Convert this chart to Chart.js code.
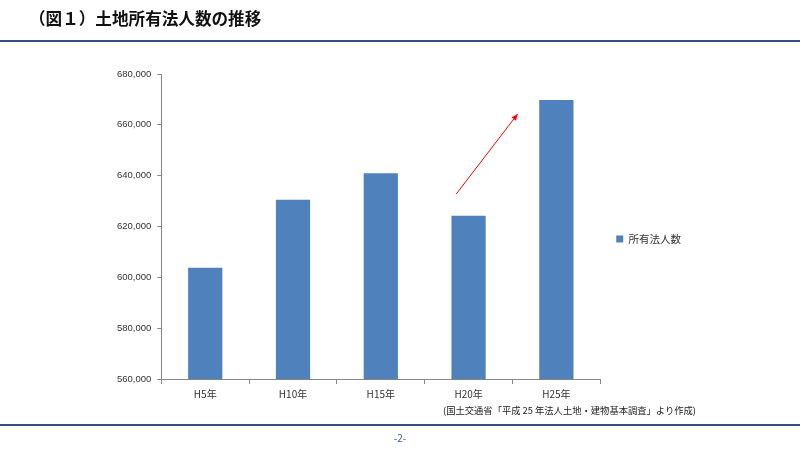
<!DOCTYPE html>
<html>
<head>
<meta charset="utf-8">
<script src="https://cdn.jsdelivr.net/npm/chart.js@4"></script>
<style>
  body { margin: 0; background: #fff; font-family: "Noto Sans CJK JP", sans-serif; }
  #wrap { position: relative; width: 800px; height: 450px; overflow: hidden; }
  #title { position: absolute; left: 29px; top: 6px; font-size: 16.6px; font-weight: bold; color: #111; }
  .rule { position: absolute; left: 0; width: 800px; height: 2px; background: #34507a; }
  #note { position: absolute; left: 443px; top: 403px; font-size: 9.3px; color: #222; }
  #page { position: absolute; left: 0; width: 800px; top: 430px; text-align: center; font-size: 10px; color: #3c5aa0; }
  #box { position: absolute; left: 0; top: 0; width: 800px; height: 450px; }
</style>
</head>
<body>
<div id="wrap">
  <div id="box"><canvas id="myBarChart"></canvas></div>
  <div id="title">（図１）土地所有法人数の推移</div>
  <div class="rule" style="top:40px"></div>
  <div id="note">(国土交通省「平成 25 年法人土地・建物基本調査」より作成)</div>
  <div class="rule" style="top:424px"></div>
  <div id="page">-2-</div>
</div>
<script>
// 年次と所有法人数
var categories = ['H5年', 'H10年', 'H15年', 'H20年', 'H25年'];
var values = [603800, 630500, 641000, 624200, 669800];
var seriesName = '所有法人数';
// 矢印の始点・終点 (カテゴリ位置, 値)
var arrowFrom = [2.86, 632800];
var arrowTo = [3.56, 664300];

var arrowPlugin = {
    id: 'arrow',
    afterDatasetsDraw: function (chart) {
        var x = chart.scales.x, y = chart.scales.y, ctx = chart.ctx;
        var x1 = x.getPixelForValue(arrowFrom[0]), y1 = y.getPixelForValue(arrowFrom[1]);
        var x2 = x.getPixelForValue(arrowTo[0]), y2 = y.getPixelForValue(arrowTo[1]);
        var a = Math.atan2(y2 - y1, x2 - x1);
        ctx.save();
        ctx.strokeStyle = '#ff0000';
        ctx.fillStyle = '#ff0000';
        ctx.lineWidth = 1;
        ctx.beginPath();
        ctx.moveTo(x1, y1);
        ctx.lineTo(x2, y2);
        ctx.stroke();
        ctx.beginPath();
        ctx.moveTo(x2, y2);
        ctx.lineTo(x2 - 7 * Math.cos(a - 0.4), y2 - 7 * Math.sin(a - 0.4));
        ctx.lineTo(x2 - 7 * Math.cos(a + 0.4), y2 - 7 * Math.sin(a + 0.4));
        ctx.closePath();
        ctx.fill();
        ctx.restore();
    }
};

var ctx = document.getElementById('myBarChart').getContext('2d');
new Chart(ctx, {
    type: 'bar',
    data: {
        labels: categories,
        datasets: [{
            label: seriesName,
            data: values,
            backgroundColor: '#4f81bd',
            borderWidth: 0,
            categoryPercentage: 1,
            barPercentage: 0.39
        }]
    },
    options: {
        responsive: true,
        maintainAspectRatio: false,
        animation: false,
        layout: { padding: { left: 111, right: 109, top: 74, bottom: 46 } },
        plugins: {
            legend: {
                position: 'right',
                labels: {
                    boxWidth: 7, boxHeight: 7, padding: 16,
                    color: '#333',
                    font: { size: 10.5, family: '"Noto Sans CJK JP", sans-serif' }
                }
            },
            tooltip: { enabled: false }
        },
        scales: {
            x: {
                grid: { drawOnChartArea: false, drawTicks: true, tickLength: 5, color: '#868686' },
                border: { color: '#868686' },
                ticks: { color: '#333', padding: 4, font: { size: 10, family: '"Noto Sans CJK JP", sans-serif' } }
            },
            y: {
                min: 560000,
                max: 680000,
                grid: { drawOnChartArea: false, drawTicks: true, tickLength: 4, color: '#868686' },
                border: { color: '#868686' },
                ticks: {
                    stepSize: 20000,
                    color: '#333',
                    padding: 6,
                    font: { size: 9.5, family: '"Liberation Sans", sans-serif' },
                    callback: function (v) { return v.toLocaleString('en-US'); }
                }
            }
        }
    },
    plugins: [arrowPlugin]
});
</script>
</body>
</html>
